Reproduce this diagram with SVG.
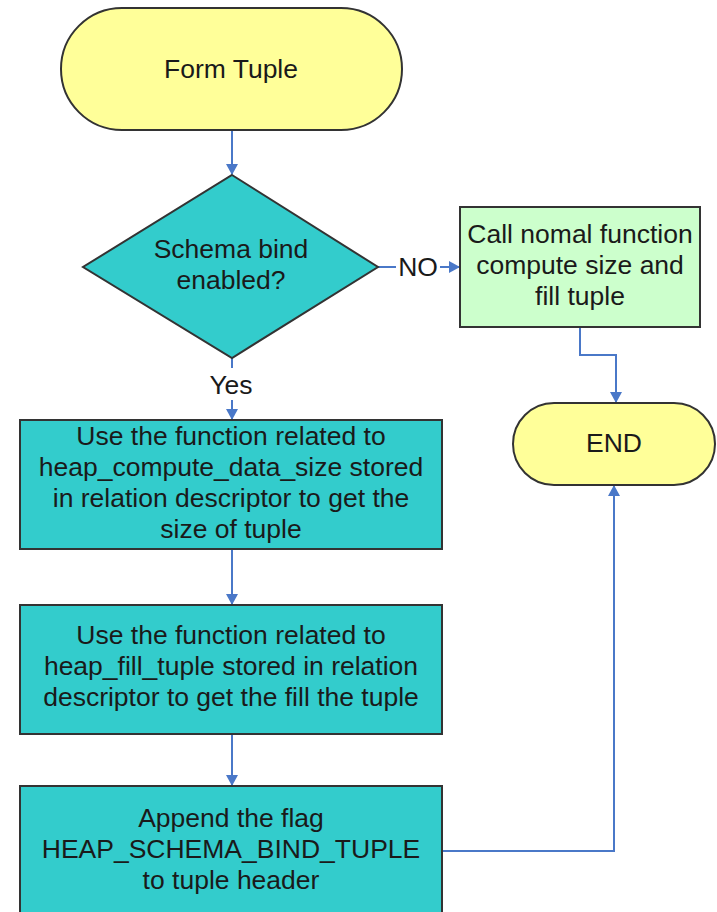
<svg xmlns="http://www.w3.org/2000/svg" width="717" height="912" viewBox="0 0 717 912">
<style>
text{font-family:"Liberation Sans",Arial,sans-serif;font-size:26.5px;fill:#1a1a1a;text-anchor:middle}
.node{stroke:#333;stroke-width:2}
.term{fill:#FFFF99}
.teal{fill:#33CCCC}
.green{fill:#CCFFCC}
.conn{fill:none;stroke:#4A78C8;stroke-width:2}
</style>
<defs>
<marker id="ah" markerWidth="12" markerHeight="12" refX="10" refY="6" orient="auto" markerUnits="userSpaceOnUse">
<path d="M0,0 L11,6 L0,12 Z" fill="#4A78C8"/>
</marker>
</defs>
<rect width="717" height="912" fill="#fff"/>
<g id="connectors">
<path class="conn" d="M232,130 V174" marker-end="url(#ah)"/>
<path class="conn" d="M378,267 H396"/>
<path class="conn" d="M440,267 H459" marker-end="url(#ah)"/>
<path class="conn" d="M232,358 V368"/>
<path class="conn" d="M232,400 V419" marker-end="url(#ah)"/>
<path class="conn" d="M232,549 V604" marker-end="url(#ah)"/>
<path class="conn" d="M232,734 V785" marker-end="url(#ah)"/>
<path class="conn" d="M580,327 V355 H616 V402" marker-end="url(#ah)"/>
<path class="conn" d="M442,851 H614 V486" marker-end="url(#ah)"/>
<text x="418" y="276">NO</text>
<text x="231" y="394">Yes</text>
</g>
<g id="start">
<rect class="node term" x="61" y="8" width="341" height="122" rx="61" ry="61"/>
<text x="231" y="78">Form Tuple</text>
</g>
<g id="decision">
<polygon class="node teal" points="232,175 378,267 232,358 83,267"/>
<text x="231" y="258">Schema bind</text>
<text x="231" y="289">enabled?</text>
</g>
<g id="normal">
<rect class="node green" x="460" y="207" width="240" height="120"/>
<text x="580" y="243">Call nomal function</text>
<text x="580" y="274">compute size and</text>
<text x="580" y="305">fill tuple</text>
</g>
<g id="end">
<rect class="node term" x="513" y="403" width="202" height="82" rx="41" ry="41"/>
<text x="614" y="452">END</text>
</g>
<g id="compute">
<rect class="node teal" x="20" y="420" width="422" height="129"/>
<text x="231" y="445">Use the function related to</text>
<text x="231" y="476">heap_compute_data_size stored</text>
<text x="231" y="507">in relation descriptor to get the</text>
<text x="231" y="538">size of tuple</text>
</g>
<g id="fill">
<rect class="node teal" x="20" y="605" width="422" height="129"/>
<text x="231" y="644">Use the function related to</text>
<text x="231" y="675">heap_fill_tuple stored in relation</text>
<text x="231" y="706">descriptor to get the fill the tuple</text>
</g>
<g id="append">
<rect class="node teal" x="20" y="786" width="422" height="140"/>
<text x="231" y="827">Append the flag</text>
<text x="231" y="858">HEAP_SCHEMA_BIND_TUPLE</text>
<text x="231" y="889">to tuple header</text>
</g>
</svg>
